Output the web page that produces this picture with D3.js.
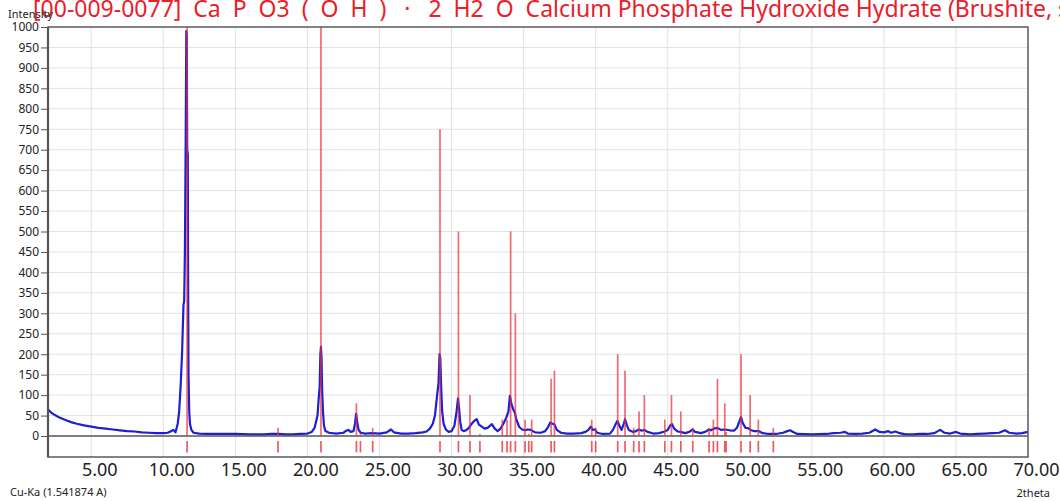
<!DOCTYPE html>
<html>
<head>
<meta charset="utf-8">
<script src="https://cdn.jsdelivr.net/npm/d3@7/dist/d3.min.js"></script>
<style>
  html, body { margin: 0; padding: 0; background: #fff; }
  svg { display: block; font-family: "Noto Sans", "Open Sans", sans-serif; }
</style>
</head>
<body>
<svg id="chart" width="1060" height="501"></svg>
<script>
// ---- Data ----
const titleText = "[00-009-0077]  Ca  P  O3  (  O  H  )   ·   2  H2  O  Calcium Phosphate Hydroxide Hydrate (Brushite, syn)";
const xTicks = [5, 10, 15, 20, 25, 30, 35, 40, 45, 50, 55, 60, 65, 70];
const yTicks = [0, 50, 100, 150, 200, 250, 300, 350, 400, 450, 500, 550, 600, 650, 700, 750, 800, 850, 900, 950, 1000];

// reference pattern sticks: 2theta
const refTheta = [11.65, 17.96, 20.94, 23.40, 23.68, 24.53, 29.20, 30.48, 31.28, 31.97,
  33.52, 33.85, 34.10, 34.43, 35.10, 35.36, 35.56, 36.91, 37.14, 39.73,
  40.00, 41.53, 42.04, 42.64, 43.01, 43.38, 44.80, 45.26, 45.91, 46.74,
  47.87, 48.17, 48.45, 48.96, 49.05, 50.09, 50.72, 51.29, 52.33];
// reference pattern sticks: relative intensity
const refInt = [1000, 20, 1000, 80, 5, 20, 750, 500, 100, 5,
  40, 40, 500, 300, 40, 5, 40, 140, 160, 40,
  20, 200, 160, 20, 60, 100, 40, 100, 60, 20,
  20, 40, 140, 80, 10, 200, 100, 40, 20];

// measured pattern: 2theta
const obsTheta = [2.0, 2.2, 2.4, 2.6, 2.8, 3.0, 3.3, 3.6, 4.0, 4.5, 5.0, 5.5, 6.0, 6.5, 7.0, 7.5, 8.0, 8.5, 9.0, 9.5,
  10.0, 10.3, 10.5, 10.7, 10.85, 11.0, 11.1, 11.2, 11.3, 11.4, 11.45, 11.5, 11.55, 11.6, 11.63, 11.66, 11.7, 11.72, 11.75, 11.8,
  11.85, 11.95, 12.1, 12.5, 13.0, 14.0, 15.0, 16.0, 17.0, 17.5, 18.0, 18.5, 19.0, 19.5, 20.0, 20.3, 20.5, 20.6, 20.7, 20.78,
  20.85, 20.9, 20.94, 20.98, 21.02, 21.08, 21.15, 21.25, 21.5, 22.0, 22.5, 22.7, 22.85, 23.0, 23.2, 23.3, 23.38, 23.45, 23.55, 23.7,
  24.0, 24.5, 25.0, 25.5, 25.8, 26.0, 26.5, 27.0, 27.5, 28.0, 28.27, 28.5, 28.7, 28.85, 29.0, 29.1, 29.17, 29.22, 29.28, 29.35,
  29.45, 29.6, 29.8, 30.0, 30.2, 30.35, 30.45, 30.52, 30.6, 30.7, 30.85, 31.0, 31.2, 31.4, 31.6, 31.75, 31.9, 32.1, 32.3, 32.5,
  32.8, 33.0, 33.2, 33.4, 33.6, 33.8, 33.95, 34.05, 34.15, 34.25, 34.4, 34.5, 34.7, 34.9, 35.1, 35.3, 35.5, 35.8, 36.2, 36.5,
  36.7, 36.85, 37.0, 37.15, 37.3, 37.6, 38.0, 38.5, 39.0, 39.3, 39.5, 39.66, 39.8, 39.95, 40.1, 40.5, 41.0, 41.2, 41.4, 41.51,
  41.65, 41.8, 41.95, 42.04, 42.15, 42.3, 42.6, 42.8, 43.0, 43.2, 43.38, 43.6, 44.0, 44.4, 44.8, 45.0, 45.2, 45.3, 45.45, 45.7,
  45.9, 46.2, 46.5, 46.74, 46.9, 47.3, 47.6, 47.87, 48.0, 48.2, 48.45, 48.7, 49.0, 49.3, 49.6, 49.8, 50.0, 50.09, 50.2, 50.4,
  50.6, 50.8, 51.0, 51.3, 51.6, 52.0, 52.5, 53.0, 53.3, 53.5, 53.7, 54.0, 55.0, 56.0, 56.5, 57.0, 57.3, 57.5, 58.0, 58.5,
  59.0, 59.4, 59.7, 60.0, 60.3, 60.5, 60.8, 61.1, 61.5, 62.0, 62.5, 63.0, 63.5, 63.9, 64.2, 64.6, 65.0, 65.3, 66.0, 66.5,
  67.0, 67.5, 68.0, 68.4, 68.7, 69.2, 69.6, 70.0];
// measured pattern: intensity
const obsInt = [65, 58, 53, 49, 45, 42, 38, 34, 30, 26, 23, 20, 18, 16, 14, 12, 11, 9, 8, 7,
  7, 8, 11, 15, 9, 30, 60, 120, 200, 320, 330, 450, 700, 990, 980, 700, 690, 400, 150, 60,
  30, 15, 8, 6, 5, 5, 5, 4, 4, 5, 5, 4, 4, 5, 6, 10, 20, 35, 50, 90,
  120, 200, 218, 190, 115, 60, 25, 12, 8, 6, 8, 13, 15, 10, 12, 30, 54, 35, 15, 8,
  6, 7, 6, 9, 16, 9, 6, 6, 7, 9, 11, 18, 30, 50, 100, 130, 200, 190, 120, 60,
  30, 16, 10, 12, 25, 60, 92, 70, 35, 15, 12, 14, 20, 30, 38, 41, 28, 23, 18, 20,
  29, 18, 12, 18, 30, 45, 60, 98, 80, 68, 56, 40, 22, 16, 14, 16, 15, 9, 8, 12,
  22, 33, 30, 28, 15, 8, 6, 6, 7, 10, 15, 23, 15, 16, 8, 5, 6, 15, 30, 37,
  25, 15, 30, 41, 28, 15, 10, 12, 16, 13, 15, 10, 6, 7, 11, 15, 27, 29, 18, 11,
  10, 7, 10, 16, 10, 7, 10, 16, 14, 18, 20, 15, 16, 14, 13, 20, 38, 46, 32, 20,
  19, 14, 12, 12, 7, 5, 5, 8, 12, 14, 10, 5, 4, 5, 7, 8, 10, 6, 5, 6,
  8, 16, 10, 9, 12, 8, 11, 7, 4, 4, 5, 5, 7, 15, 8, 6, 10, 6, 4, 5,
  6, 7, 8, 14, 8, 6, 7, 10];

// ---- Chart ----
const svg = d3.select("#chart");
const L = 48, R = 1028, T = 27, B = 457;

const x = d3.scaleLinear().domain([2, 70]).range([L, R]);
const y = d3.scaleLinear().domain([-51.3, 1000]).range([B, T]);

// title (clipped at the top like the original)
svg.append("text")
  .attr("x", 33).attr("y", 17)
  .attr("fill", "#e8202a")
  .attr("font-size", 23)
  .style("white-space", "pre")
  .text(titleText);

// grid
const grid = svg.append("g");
grid.selectAll("line.h").data(yTicks.filter(d => d > 0 && d < 1000)).join("line")
  .attr("x1", L).attr("x2", R)
  .attr("y1", d => y(d)).attr("y2", d => y(d))
  .attr("stroke", "#e2e2e2").attr("stroke-width", 1);
grid.selectAll("line.v").data(xTicks.filter(d => d < 70)).join("line")
  .attr("x1", d => x(d)).attr("x2", d => x(d))
  .attr("y1", T).attr("y2", B)
  .attr("stroke", "#e2e2e2").attr("stroke-width", 1);

// measured pattern
const line = d3.line().x((d, i) => x(obsTheta[i])).y((d, i) => y(obsInt[i]));
svg.append("path")
  .datum(obsInt)
  .attr("d", line)
  .attr("fill", "none")
  .attr("stroke", "#1e1ed2")
  .attr("stroke-width", 2.2)
  .attr("stroke-linejoin", "round");

// zero line
svg.append("line")
  .attr("x1", L).attr("x2", R)
  .attr("y1", y(0)).attr("y2", y(0))
  .attr("stroke", "#555").attr("stroke-width", 1.5);

// reference sticks
const sticks = svg.append("g");
sticks.selectAll("line.stick").data(refTheta).join("line")
  .attr("x1", d => x(d)).attr("x2", d => x(d))
  .attr("y1", y(0)).attr("y2", (d, i) => y(refInt[i]))
  .attr("stroke", "#e8323a").attr("stroke-opacity", 0.72).attr("stroke-width", 1.7);
sticks.selectAll("line.mark").data(refTheta).join("line")
  .attr("x1", d => x(d)).attr("x2", d => x(d))
  .attr("y1", y(-12)).attr("y2", y(-40))
  .attr("stroke", "#e8323a").attr("stroke-opacity", 0.8).attr("stroke-width", 1.7);

// frame
svg.append("rect")
  .attr("x", L).attr("y", T).attr("width", R - L).attr("height", B - T)
  .attr("fill", "none").attr("stroke", "#5a5a5a").attr("stroke-width", 1.5);
svg.append("line")
  .attr("x1", L).attr("x2", L).attr("y1", T).attr("y2", B)
  .attr("stroke", "#555").attr("stroke-width", 2.2);

// y axis
const yAxis = d3.axisLeft(y).tickValues(yTicks).tickSize(7).tickPadding(2).tickFormat(d3.format("d"));
const gy = svg.append("g").attr("transform", `translate(${L},0)`).call(yAxis);
gy.select(".domain").remove();
gy.selectAll(".tick line").attr("stroke", "#555").attr("stroke-width", 1);
gy.selectAll(".tick text").attr("font-size", 12).attr("fill", "#222")
  .attr("font-family", "'Noto Sans', sans-serif");

// x axis
const xAxis = d3.axisBottom(x).tickValues(xTicks).tickSize(0).tickPadding(6).tickFormat(d3.format(".2f"));
const gx = svg.append("g").attr("transform", `translate(0,${B})`).call(xAxis);
gx.select(".domain").remove();
gx.selectAll(".tick text").attr("font-size", 18).attr("fill", "#222").attr("dx", 8)
  .attr("font-family", "'Noto Sans', sans-serif");

// axis captions
svg.append("text").attr("x", 8).attr("y", 18).attr("font-size", 11).attr("fill", "#222").text("Intensity");
svg.append("text").attr("x", 10).attr("y", 496).attr("font-size", 11).attr("fill", "#222").text("Cu-Ka (1.541874 A)");
svg.append("text").attr("x", 1050).attr("y", 497).attr("font-size", 11).attr("fill", "#222")
  .attr("text-anchor", "end").text("2theta");
</script>
</body>
</html>
